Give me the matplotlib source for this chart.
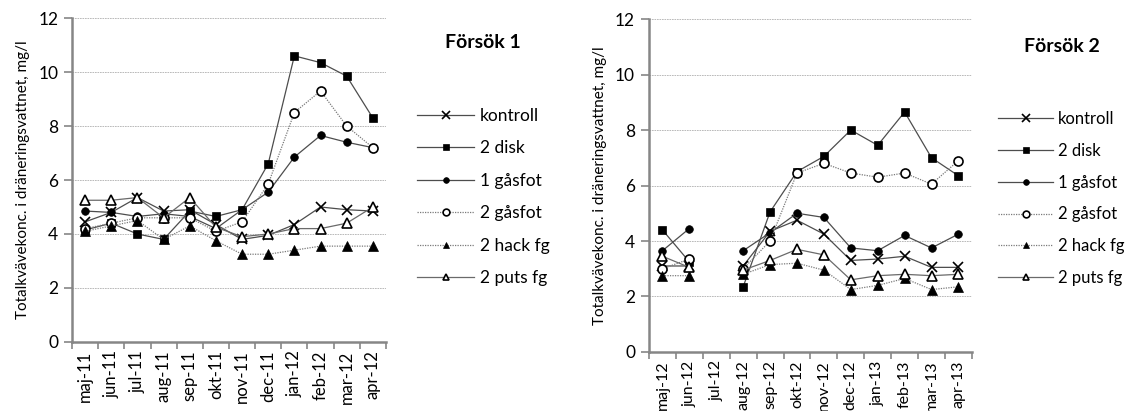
import numpy as np
import matplotlib
matplotlib.use("Agg")
import matplotlib.pyplot as plt

plt.rcParams['font.family'] = ['Lato', 'DejaVu Sans']

nan = np.nan

# Försök 1: maj-11 .. apr-12
months1 = ['maj-11', 'jun-11', 'jul-11', 'aug-11', 'sep-11', 'okt-11',
           'nov-11', 'dec-11', 'jan-12', 'feb-12', 'mar-12', 'apr-12']
kontroll1 = [4.45, 4.8, 5.35, 4.85, 4.9, 4.35, 3.8, 3.95, 4.35, 5.0, 4.9, 4.85]
disk1 = [4.15, 4.4, 4.0, 3.8, 4.85, 4.65, 4.9, 6.6, 10.6, 10.35, 9.85, 8.3]
gasfot1_1 = [4.85, 4.8, 4.65, 4.75, 4.65, 4.2, 4.9, 5.55, 6.85, 7.65, 7.4, 7.2]
gasfot2_1 = [4.2, 4.4, 4.6, 4.6, 4.6, 4.1, 4.45, 5.85, 8.5, 9.3, 8.0, 7.2]
hack1 = [4.1, 4.3, 4.5, 3.8, 4.3, 3.75, 3.25, 3.25, 3.4, 3.55, 3.55, 3.55]
puts1 = [5.25, 5.25, 5.35, 4.6, 5.35, 4.25, 3.9, 4.0, 4.2, 4.2, 4.4, 5.0]

# Försök 2: maj-12 .. apr-13 (no sample in jul-12)
months2 = ['maj-12', 'jun-12', 'jul-12', 'aug-12', 'sep-12', 'okt-12',
           'nov-12', 'dec-12', 'jan-13', 'feb-13', 'mar-13', 'apr-13']
kontroll2 = [3.1, 3.1, nan, 3.1, 4.35, 4.75, 4.25, 3.3, 3.35, 3.45, 3.05, 3.05]
disk2 = [4.4, 3.25, nan, 2.35, 5.05, 6.5, 7.05, 8.0, 7.45, 8.65, 7.0, 6.35]
gasfot1_2 = [3.65, 4.45, nan, 3.65, 4.3, 5.0, 4.85, 3.75, 3.65, 4.2, 3.75, 4.25]
gasfot2_2 = [3.0, 3.35, nan, 3.0, 4.0, 6.45, 6.8, 6.45, 6.3, 6.45, 6.05, 6.9]
hack2 = [2.75, 2.75, nan, 2.8, 3.15, 3.2, 2.95, 2.25, 2.4, 2.65, 2.25, 2.35]
puts2 = [3.45, 3.05, nan, 2.95, 3.3, 3.7, 3.5, 2.6, 2.75, 2.8, 2.75, 2.8]

labels = ['kontroll', '2 disk', '1 gåsfot', '2 gåsfot', '2 hack fg', '2 puts fg']

# marker / line style for each treatment
styles = [
    dict(marker='x', ms=7, mew=1.2, mfc='black', ls='-', color='#4d4d4d'),
    dict(marker='s', ms=5.5, mew=0.5, mfc='black', ls='-', color='#4d4d4d'),
    dict(marker='o', ms=5.5, mew=0.5, mfc='black', ls='-', color='#4d4d4d'),
    dict(marker='o', ms=6.5, mew=1.2, mfc='white', ls=(0, (1, 1)), color='#7a7a7a'),
    dict(marker='^', ms=6.5, mew=0.5, mfc='black', ls=(0, (1, 1)), color='#7a7a7a'),
    dict(marker='^', ms=6.5, mew=1.2, mfc='white', ls='-', color='#6a6a6a'),
]

fig = plt.figure(figsize=(11.33, 4.11), dpi=100)
ax1 = fig.add_axes([0.0636, 0.168, 0.277, 0.788])
ax2 = fig.add_axes([0.5728, 0.1436, 0.285, 0.810])


def draw(ax, months, series, title, title_xy, leg_xy, leg_size, tick_size):
    x = np.arange(len(months))
    for vals, lab, st in zip(series, labels, styles):
        st = dict(st)
        col = st.pop('color')
        ax.plot(x, vals, label=lab, color=col, lw=0.9, mec='black', **st)

    ax.set_ylim(0, 12)
    ax.set_yticks(range(0, 13, 2))
    ax.set_xlim(-0.5, len(months) - 0.5)
    # tick marks between categories, labels at category centres
    ax.set_xticks(np.arange(len(months) + 1) - 0.5)
    ax.set_xticklabels([])
    ax.set_xticks(x, minor=True)
    ax.set_xticklabels(months, minor=True, rotation=90, fontsize=tick_size)
    ax.tick_params(axis='x', which='major', length=5, width=1.2, color='#868686')
    ax.tick_params(axis='x', which='minor', length=0, pad=6)
    ax.tick_params(axis='y', length=6, width=1.2, color='#868686', labelsize=12.5, pad=4)

    ax.grid(axis='y', color='#b0b0b0', lw=0.6, ls=(0, (2, 1)))
    ax.set_axisbelow(True)
    for s in ['top', 'right']:
        ax.spines[s].set_visible(False)
    for s in ['left', 'bottom']:
        ax.spines[s].set_color('#868686')
        ax.spines[s].set_linewidth(1.8)

    ax.set_ylabel('Totalkvävekonc. i dräneringsvattnet, mg/l', fontsize=11, labelpad=6)
    fig.text(title_xy[0], title_xy[1], title, fontsize=14, fontweight='bold',
             ha='center', va='center')
    ax.legend(loc='upper left', bbox_to_anchor=leg_xy, bbox_transform=fig.transFigure,
              frameon=False, fontsize=leg_size, handlelength=3.3, handletextpad=0.3,
              labelspacing=0.95, borderpad=0, borderaxespad=0, markerscale=0.75)


draw(ax1, months1, [kontroll1, disk1, gasfot1_1, gasfot2_1, hack1, puts1],
     'Försök 1', (483 / 1133, 1 - 42 / 411), (417 / 1133, 1 - 108 / 411), 12.5, 12)
draw(ax2, months2, [kontroll2, disk2, gasfot1_2, gasfot2_2, hack2, puts2],
     'Försök 2', (1062 / 1133, 1 - 47 / 411), (998 / 1133, 1 - 111 / 411), 12, 11.5)

fig.savefig('out.png', dpi=100)
